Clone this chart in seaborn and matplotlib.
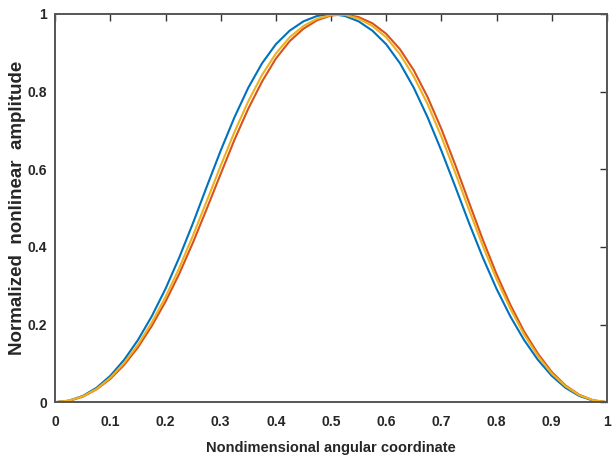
import matplotlib
matplotlib.use("Agg")
import matplotlib.pyplot as plt
import seaborn as sns
import pandas as pd

# ── data (normalised amplitude vs angular coordinate) ──
theta = [0.000, 0.025, 0.050, 0.075, 0.100, 0.125, 0.150, 0.175, 0.200, 0.225,
         0.250, 0.275, 0.300, 0.325, 0.350, 0.375, 0.400, 0.425, 0.450, 0.475,
         0.500, 0.525, 0.550, 0.575, 0.600, 0.625, 0.650, 0.675, 0.700, 0.725,
         0.750, 0.775, 0.800, 0.825, 0.850, 0.875, 0.900, 0.925, 0.950, 0.975,
         1.000]

amp_blue = [0.000, 0.004, 0.016, 0.037, 0.068, 0.109, 0.160, 0.221, 0.292, 0.373,
            0.462, 0.556, 0.648, 0.734, 0.810, 0.873, 0.922, 0.957, 0.981, 0.995,
            1.000, 0.995, 0.981, 0.957, 0.922, 0.873, 0.810, 0.734, 0.648, 0.556,
            0.462, 0.373, 0.292, 0.221, 0.160, 0.109, 0.068, 0.037, 0.016, 0.004,
            0.000]

amp_red = [0.000, 0.003, 0.014, 0.033, 0.060, 0.096, 0.141, 0.196, 0.259, 0.331,
           0.412, 0.499, 0.588, 0.676, 0.756, 0.826, 0.885, 0.930, 0.962, 0.984,
           0.996, 0.999, 0.992, 0.976, 0.949, 0.909, 0.855, 0.786, 0.704, 0.612,
           0.515, 0.419, 0.330, 0.251, 0.182, 0.125, 0.078, 0.043, 0.019, 0.005,
           0.000]

amp_yellow = [0.000, 0.004, 0.015, 0.034, 0.063, 0.101, 0.148, 0.205, 0.271, 0.346,
              0.430, 0.519, 0.609, 0.696, 0.775, 0.843, 0.898, 0.940, 0.969, 0.988,
              0.997, 0.998, 0.988, 0.969, 0.940, 0.896, 0.839, 0.768, 0.684, 0.592,
              0.496, 0.403, 0.317, 0.241, 0.174, 0.119, 0.074, 0.041, 0.018, 0.005,
              0.000]

x_ticks = [0, 0.1, 0.2, 0.3, 0.4, 0.5, 0.6, 0.7, 0.8, 0.9, 1]
x_ticklabels = ["0", "0.1", "0.2", "0.3", "0.4", "0.5", "0.6", "0.7", "0.8", "0.9", "1"]
y_ticks = [0, 0.2, 0.4, 0.6, 0.8, 1]
y_ticklabels = ["0", "0.2", "0.4", "0.6", "0.8", "1"]

# MATLAB default colour order: blue, red, yellow (yellow drawn last)
SERIES = [("blue", amp_blue, "#0072BD"),
          ("red", amp_red, "#D95319"),
          ("yellow", amp_yellow, "#EDB120")]

sns.set_style("white")
plt.rcParams["font.family"] = ["Liberation Sans", "DejaVu Sans"]

fig, ax = plt.subplots(figsize=(6.13, 4.66), dpi=100)
fig.subplots_adjust(left=0.090, right=0.990, bottom=0.137, top=0.970)

for name, amp, color in SERIES:
    df = pd.DataFrame({"theta": theta, "amp": amp})
    sns.lineplot(data=df, x="theta", y="amp", color=color, linewidth=1.5,
                 ax=ax, sort=False, solid_joinstyle="round")

ax.set_xlim(0, 1)
ax.set_ylim(0, 1)
ax.set_xticks(x_ticks)
ax.set_xticklabels(x_ticklabels)
ax.set_yticks(y_ticks)
ax.set_yticklabels(y_ticklabels)

txt = "#262626"
ax.tick_params(direction="in", length=5, width=1.0, colors="#333333",
               top=True, right=True, labelsize=10, labelcolor=txt)
ax.tick_params(axis="x", pad=9)
ax.tick_params(axis="y", pad=6)
for lab in ax.get_xticklabels() + ax.get_yticklabels():
    lab.set_fontweight("bold")
for sp in ax.spines.values():
    sp.set_visible(True)
    sp.set_color("#555555")
    sp.set_linewidth(1.4)

ax.set_xlabel("Nondimensional angular coordinate", fontsize=10.5,
              fontweight="bold", color=txt, labelpad=9)
ax.set_ylabel("Normalized  nonlinear  amplitude", fontsize=13.5,
              fontweight="bold", color=txt, labelpad=1)

fig.savefig("out.png", dpi=100)
